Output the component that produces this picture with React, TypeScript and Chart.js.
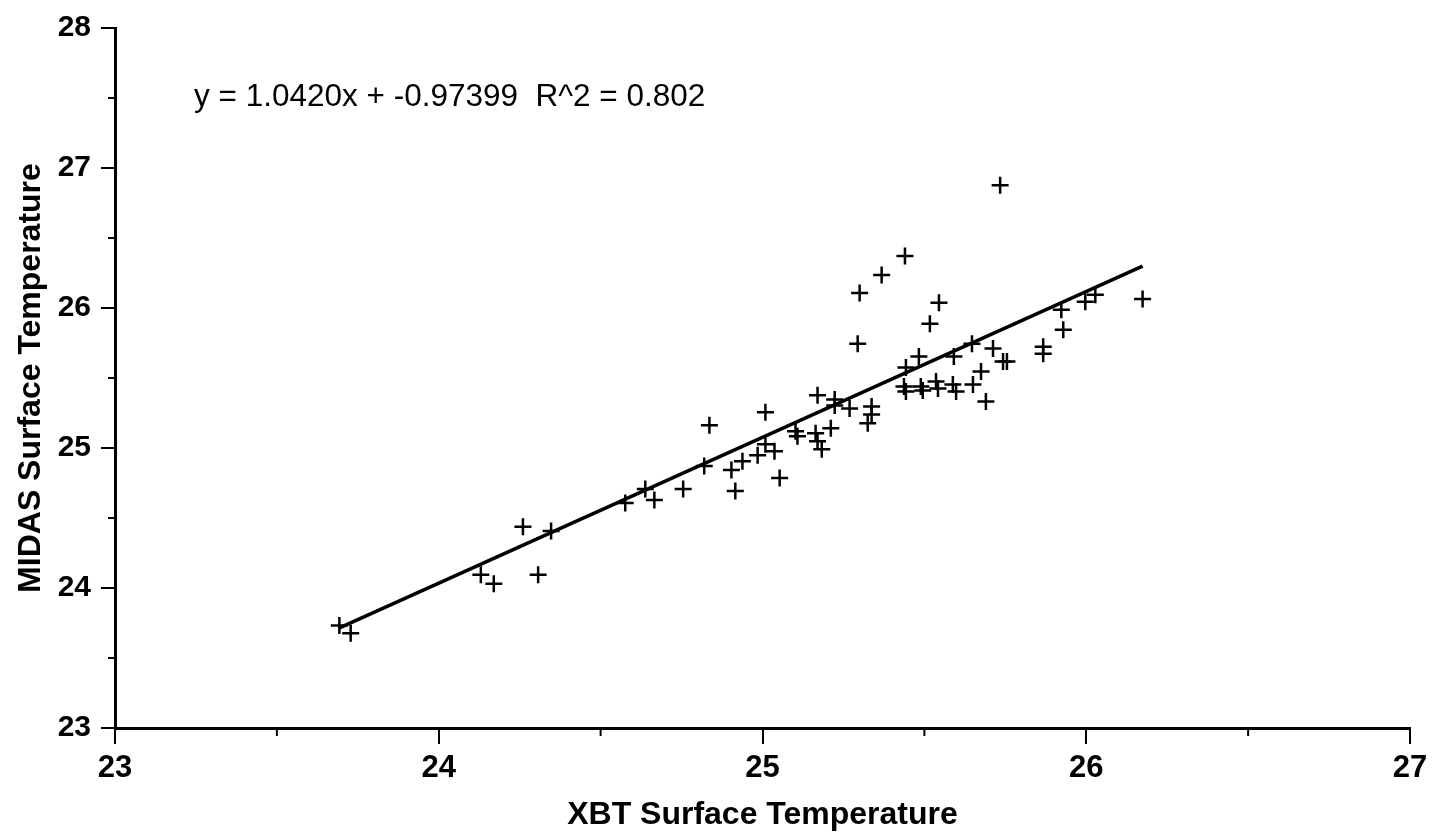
import React, { useEffect, useRef } from 'react';
import { Chart, registerables } from 'chart.js';

Chart.register(...registerables);

// XBT surface temperature (x) vs MIDAS surface temperature (y)
const xbtTemps = [
  23.693, 23.728, 24.130, 24.170, 24.260, 24.307, 24.347, 24.576, 24.638, 24.666,
  24.755, 24.820, 24.836, 24.904, 24.916, 24.938, 24.985, 25.009, 25.009, 25.037,
  25.053, 25.102, 25.108, 25.170, 25.164, 25.170, 25.183, 25.211, 25.223, 25.223,
  25.269, 25.325, 25.337, 25.337, 25.294, 25.300, 25.368, 25.440, 25.517, 25.545,
  25.443, 25.483, 25.437, 25.443, 25.489, 25.495, 25.536, 25.542, 25.588, 25.598,
  25.591, 25.647, 25.675, 25.650, 25.690, 25.712, 25.743, 25.755, 25.734, 25.867,
  25.867, 25.923, 25.929, 25.997, 26.028, 26.174,
];
const midasTemps = [
  23.733, 23.676, 24.095, 24.031, 24.437, 24.095, 24.408, 24.607, 24.707, 24.629,
  24.707, 24.871, 25.162, 24.842, 24.693, 24.906, 24.949, 25.255, 25.027, 24.977,
  24.785, 25.119, 25.084, 25.376, 25.106, 25.048, 24.991, 25.141, 25.347, 25.304,
  25.283, 25.176, 25.297, 25.240, 25.745, 26.108, 26.236, 26.371, 25.888, 26.037,
  25.575, 25.653, 25.440, 25.404, 25.440, 25.411, 25.475, 25.425, 25.454, 25.404,
  25.653, 25.745, 25.546, 25.454, 25.333, 25.710, 25.617, 25.617, 26.876, 25.724,
  25.674, 25.987, 25.845, 26.044, 26.094, 26.065,
];

// Regression shown on the chart
const fitSlope = 1.042;
const fitIntercept = -0.97399;
const fitXRange = [23.69, 26.174];
const equationLabel = 'y = 1.0420x + -0.97399  R^2 = 0.802';

const xAxisRange = [23, 27];
const yAxisRange = [23, 28];
const xAxisTitle = 'XBT Surface Temperature';
const yAxisTitle = 'MIDAS Surface Temperature';

const FONT = '"Liberation Sans", Arial, Helvetica, sans-serif';

const overlayPlugin = {
  id: 'overlay',
  afterDraw(chart: any) {
    const { ctx, chartArea } = chart;
    const xs = chart.scales.x;
    const ys = chart.scales.y;
    ctx.save();
    ctx.strokeStyle = '#000';
    ctx.lineWidth = 2;
    // minor (half-unit) ticks
    for (let i = 0; i < xs.ticks.length - 1; i++) {
      const v = (xs.ticks[i].value + xs.ticks[i + 1].value) / 2;
      const px = xs.getPixelForValue(v);
      ctx.beginPath();
      ctx.moveTo(px, chartArea.bottom);
      ctx.lineTo(px, chartArea.bottom + 8);
      ctx.stroke();
    }
    for (let i = 0; i < ys.ticks.length - 1; i++) {
      const v = (ys.ticks[i].value + ys.ticks[i + 1].value) / 2;
      const py = ys.getPixelForValue(v);
      ctx.beginPath();
      ctx.moveTo(chartArea.left - 7, py);
      ctx.lineTo(chartArea.left, py);
      ctx.stroke();
    }
    // equation label
    ctx.fillStyle = '#000';
    ctx.font = `31.5px ${FONT}`;
    ctx.textAlign = 'left';
    ctx.textBaseline = 'alphabetic';
    ctx.fillText(equationLabel, chartArea.left + 79, chartArea.top + 78);
    ctx.restore();
  },
};

export default function App() {
  const canvasRef = useRef<HTMLCanvasElement | null>(null);

  useEffect(() => {
    if (!canvasRef.current) return;
    const points = xbtTemps.map((x, i) => ({ x, y: midasTemps[i] }));
    const fitLine = fitXRange.map((x) => ({ x, y: fitSlope * x + fitIntercept }));

    const chart = new Chart(canvasRef.current, {
      type: 'scatter',
      data: {
        datasets: [
          {
            type: 'line',
            data: fitLine,
            borderColor: '#000',
            borderWidth: 3.5,
            pointRadius: 0,
            fill: false,
          } as any,
          {
            type: 'scatter',
            data: points,
            pointStyle: 'cross',
            pointRadius: 8.5,
            pointBorderWidth: 2.5,
            borderColor: '#000',
            backgroundColor: '#000',
          } as any,
        ],
      },
      options: {
        animation: false,
        responsive: true,
        maintainAspectRatio: false,
        layout: { padding: { top: 25, right: 25, left: 0, bottom: 0 } },
        plugins: {
          legend: { display: false },
          tooltip: { enabled: false },
        },
        scales: {
          x: {
            type: 'linear',
            min: xAxisRange[0],
            max: xAxisRange[1],
            afterFit: (s: any) => { s.height = 109; },
            ticks: {
              stepSize: 1,
              color: '#000',
              padding: 6,
              font: { family: FONT, size: 31, weight: 'bold' },
            },
            grid: {
              display: true,
              drawOnChartArea: false,
              drawTicks: true,
              tickLength: 16,
              color: '#000',
              lineWidth: 2,
            },
            border: { display: true, color: '#000', width: 3 },
            title: {
              display: true,
              text: xAxisTitle,
              color: '#000',
              font: { family: FONT, size: 32, weight: 'bold' },
              padding: { top: 0, bottom: 3 },
            },
          },
          y: {
            type: 'linear',
            min: yAxisRange[0],
            max: yAxisRange[1],
            afterFit: (s: any) => { s.width = 115; },
            ticks: {
              stepSize: 1,
              color: '#000',
              padding: 10,
              font: { family: FONT, size: 30, weight: 'bold' },
            },
            grid: {
              display: true,
              drawOnChartArea: false,
              drawTicks: true,
              tickLength: 14,
              color: '#000',
              lineWidth: 2,
            },
            border: { display: true, color: '#000', width: 3 },
            title: {
              display: true,
              text: yAxisTitle,
              color: '#000',
              font: { family: FONT, size: 32, weight: 'bold' },
              padding: { top: 12, bottom: 0 },
            },
          },
        },
      },
      plugins: [overlayPlugin],
    });
    return () => chart.destroy();
  }, []);

  return (
    <div style={{ position: 'fixed', left: 0, top: 0, width: 1435, height: 837, background: '#fff' }}>
      <canvas ref={canvasRef} />
    </div>
  );
}
